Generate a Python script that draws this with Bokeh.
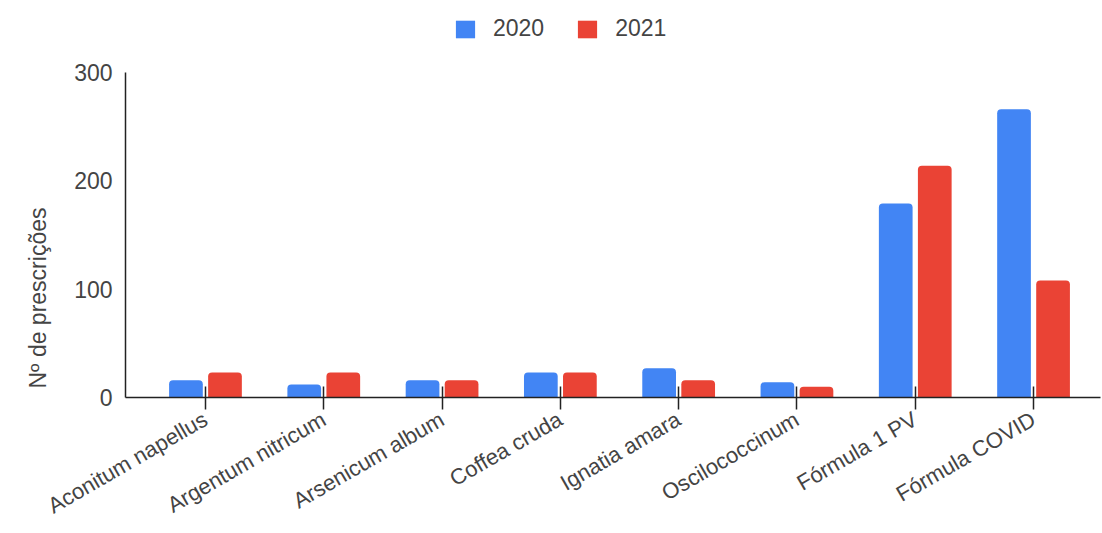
import math
from bokeh.plotting import figure
from bokeh.models import (ColumnDataSource, Range1d, FixedTicker, Legend,
                          LegendItem, Title)
from bokeh.embed import file_html
from bokeh.resources import INLINE

# Prescriptions per remedy, by year
remedies = ["Aconitum napellus", "Argentum nitricum", "Arsenicum album",
            "Coffea cruda", "Ignatia amara", "Oscilococcinum",
            "Fórmula 1 PV", "Fórmula COVID"]
counts_2020 = [16, 12, 16, 23, 27, 14, 179, 266]
counts_2021 = [23, 23, 16, 23, 16, 10, 214, 108]
y_ticks = [0, 100, 200, 300]

BLUE = "#4285F4"
RED = "#EA4335"
TEXT = "#444444"
FONT = "Liberation Sans"

idx = list(range(len(remedies)))
offset = 0.165
bar_w = 0.285

src20 = ColumnDataSource(dict(x=[i - offset for i in idx], top=counts_2020))
src21 = ColumnDataSource(dict(x=[i + offset for i in idx], top=counts_2021))

# the plot area runs up to the top edge so the legend can sit above the
# value axis; the axis line itself stops at 300
p = figure(width=1102, height=533, output_backend="svg", toolbar_location=None,
           x_range=Range1d(-0.676, 7.566), y_range=Range1d(0, 366.5),
           min_border_left=125, min_border_right=2, min_border_top=0,
           min_border_bottom=136, outline_line_color=None)
p.background_fill_color = "white"
p.border_fill_color = "white"

r20 = p.vbar(x="x", top="top", width=bar_w, source=src20, fill_color=BLUE,
             line_color=None, border_radius=[4, 4, 0, 0])
r21 = p.vbar(x="x", top="top", width=bar_w, source=src21, fill_color=RED,
             line_color=None, border_radius=[4, 4, 0, 0])

p.xgrid.visible = False
p.ygrid.visible = False

# category axis
xa = p.xaxis[0]
xa.ticker = FixedTicker(ticks=idx)
xa.major_label_overrides = {i: name for i, name in enumerate(remedies)}
xa.major_label_orientation = math.radians(30)
xa.major_tick_in = 11
xa.major_tick_out = 12
xa.major_tick_line_color = "#222222"
xa.major_tick_line_width = 1.5
xa.minor_tick_line_color = None
xa.axis_line_color = "#222222"
xa.axis_line_width = 1.5
xa.major_label_text_font = FONT
xa.major_label_text_font_size = "22px"
xa.major_label_text_color = TEXT
xa.major_label_standoff = 8

# value axis
ya = p.yaxis[0]
ya.ticker = FixedTicker(ticks=y_ticks)
ya.bounds = (0, 300)
ya.major_tick_line_color = None
ya.major_tick_in = 0
ya.major_tick_out = 0
ya.minor_tick_line_color = None
ya.axis_line_color = "#222222"
ya.axis_line_width = 1.5
ya.major_label_text_font = FONT
ya.major_label_text_font_size = "23px"
ya.major_label_text_color = TEXT
ya.major_label_standoff = 13

# vertical axis title, sitting low along the left edge
p.add_layout(Title(text="Nº de prescrições", align="left", offset=9,
                   standoff=42, text_font=FONT, text_font_size="23px",
                   text_font_style="normal", text_color=TEXT), "left")

legend = Legend(items=[LegendItem(label="2020", renderers=[r20]),
                       LegendItem(label="2021", renderers=[r21])],
                orientation="horizontal", location=(328, 355),
                glyph_width=24, glyph_height=22, label_standoff=16,
                spacing=31, padding=0, margin=0, border_line_color=None,
                background_fill_alpha=0,
                label_text_font=FONT, label_text_font_size="23px",
                label_text_color=TEXT)
p.add_layout(legend, "center")

open("out.html", "w").write(file_html(p, INLINE))
